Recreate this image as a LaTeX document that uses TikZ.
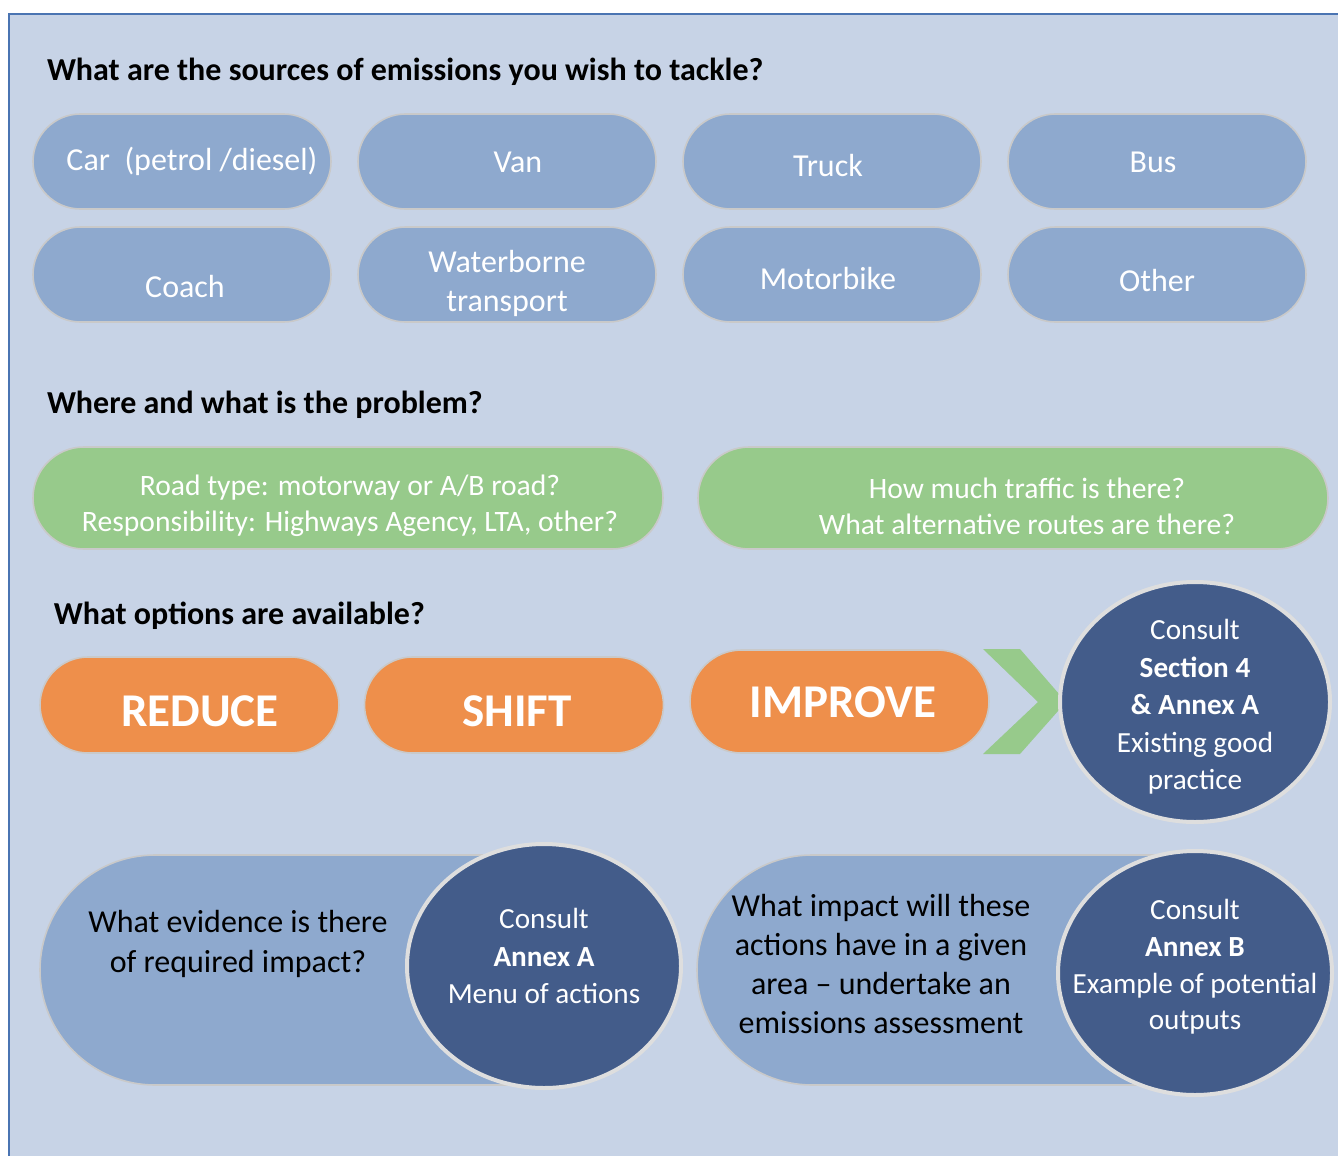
\documentclass[tikz,border=0pt]{standalone}
\usepackage{fontspec}
\setmainfont{Carlito}
\usetikzlibrary{shapes.misc,shapes.geometric}

\definecolor{panelbg}{HTML}{C7D3E6}
\definecolor{panelrim}{HTML}{4A74B2}
\definecolor{pillblue}{HTML}{8EA9CE}
\definecolor{pillgreen}{HTML}{97CA8B}
\definecolor{pillorange}{HTML}{EE8F4B}
\definecolor{consultblue}{HTML}{435C8A}
\definecolor{rimgrey}{HTML}{C9C9C9}
\definecolor{ringgrey}{HTML}{DEDEDE}

\begin{document}
\begin{tikzpicture}[x=0.5pt,y=-0.5pt]
\tikzset{inner sep=0pt, outer sep=0pt}
\tikzset{heading/.style={anchor=west, font=\fontsize{16}{19}\selectfont\bfseries},
  pill/.style={rounded rectangle, fill=pillblue, draw=rimgrey, line width=0.8pt,
    minimum width=149pt, minimum height=47.5pt},
  pilltext/.style={text=white, align=center, font=\fontsize{16}{19.5}\selectfont},
  greenpill/.style={pill, fill=pillgreen, minimum width=315pt, minimum height=51pt},
  greentext/.style={pilltext, font=\fontsize{14.8}{18}\selectfont},
  optionpill/.style={pill, fill=pillorange, minimum width=149.5pt, minimum height=48pt},
  optiontext/.style={pilltext, font=\fontsize{23.5}{28}\selectfont\bfseries},
  bigpill/.style={pill, minimum height=115pt},
  consult/.style={ellipse, fill=consultblue, draw=ringgrey, line width=2pt},
  consulttext/.style={text=white, align=center, font=\fontsize{14.6}{18.7}\selectfont},
  asktext/.style={align=center, font=\fontsize{16}{20}\selectfont}}

\useasboundingbox (0,0) rectangle (1338,1156);
\draw [fill=panelbg, draw=panelrim, line width=1pt] (9,14) rectangle (1360,1180);

% sources
\node [heading] (h1) at (47,72) {What are the sources of emissions you wish to tackle?};

\node [pill] (car) at (182,161.5) {};
\node [pill] (van) at (507,161.5) {};
\node [pill] (truck) at (832,161.5) {};
\node [pill] (bus) at (1157,161.5) {};
\node [pill] (coach) at (182,274.5) {};
\node [pill] (water) at (507,274.5) {};
\node [pill] (motorbike) at (832,274.5) {};
\node [pill] (other) at (1157,274.5) {};

\node [pilltext] (cartext) at (192,161) {Car\ \ (petrol /diesel)};
\node [pilltext] (vantext) at (518,162) {Van};
\node [pilltext] (trucktext) at (828,166) {Truck};
\node [pilltext] (bustext) at (1153,162) {Bus};
\node [pilltext] (coachtext) at (185,287) {Coach};
\node [pilltext] (watertext) at (507,283) {Waterborne\\transport};
\node [pilltext] (motorbiketext) at (828,279) {Motorbike};
\node [pilltext] (othertext) at (1157,281) {Other};

% problem
\node [heading] (h2) at (47,405) {Where and what is the problem?};

\node [greenpill] (roadtype) at (348,498) {};
\node [greenpill] (traffic) at (1013,498) {};
\node [greentext] (roadtypetext) at (350,506) {Road type: motorway or A/B road?\\Responsibility: Highways Agency, LTA, other?};
\node [greentext] (traffictext) at (1027,506) {How much traffic is there?\\What alternative routes are there?};

% options
\node [heading] (h3) at (54,616) {What options are available?};

\node [optionpill] (reduce) at (189.5,705) {};
\node [optionpill] (shift) at (514,705) {};
\node [optionpill, minimum height=51.5pt] (improve) at (839.5,701.5) {};
\node [optiontext] (reducetext) at (200,711) {REDUCE};
\node [optiontext] (shifttext) at (517,711) {SHIFT};
\node [optiontext] (improvetext) at (843,702) {IMPROVE};

\fill [pillgreen] (983,649) -- (1020,649) -- (1066,702) -- (1020,754) -- (983,754) -- (1038,702) -- cycle;

\node [consult, minimum width=135pt, minimum height=120pt] (goodpractice) at (1195,702) {};
\node [consulttext] (goodpracticetext) at (1195,707) {Consult\\\textbf{Section 4}\\\textbf{\& Annex A}\\Existing good\\practice};

% evidence and impact
\node [bigpill, minimum width=300pt] (evidence) at (340,970) {};
\node [asktext] (evidencetext) at (238,944) {What evidence is there\\of required impact?};
\node [consult, minimum width=137pt, minimum height=122pt] (menu) at (544,966) {};
\node [consulttext] (menutext) at (544,956) {Consult\\\textbf{Annex A}\\Menu of actions};

\node [bigpill, minimum width=296.5pt] (impact) at (993.5,970) {};
\node [asktext, font=\fontsize{16}{19.5}\selectfont] (impacttext) at (881,964) {What impact will these\\actions have in a given\\area -- undertake an\\emissions assessment};
\node [consult, minimum width=137pt, minimum height=122pt] (outputs) at (1195,973) {};
\node [consulttext, font=\fontsize{14.6}{18.3}\selectfont] (outputstext) at (1195,967) {Consult\\\textbf{Annex B}\\Example of potential\\outputs};

\end{tikzpicture}
\end{document}
